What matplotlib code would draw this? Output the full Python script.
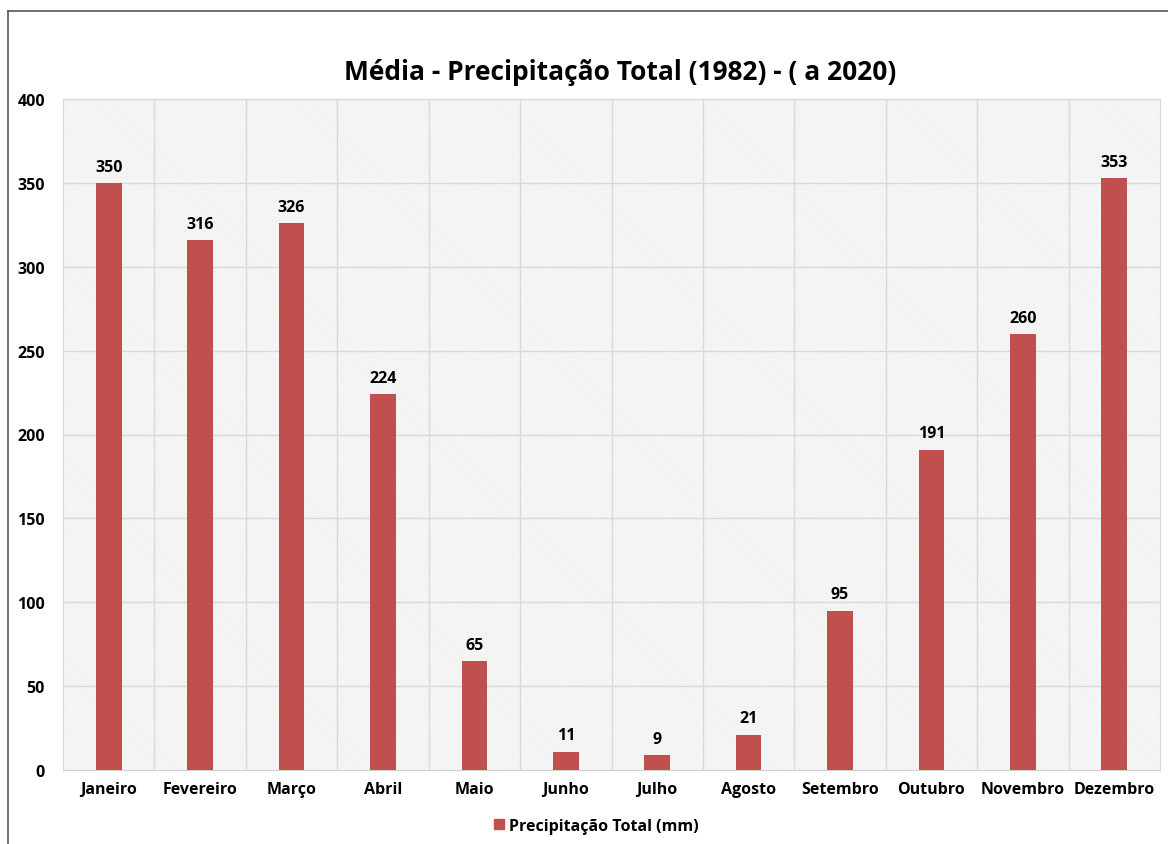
import matplotlib
matplotlib.use("Agg")
import matplotlib.pyplot as plt
from matplotlib.patches import Rectangle
from matplotlib.lines import Line2D
import numpy as np

months = ["Janeiro", "Fevereiro", "Março", "Abril", "Maio", "Junho",
          "Julho", "Agosto", "Setembro", "Outubro", "Novembro", "Dezembro"]
precip = [350, 316, 326, 224, 65, 11, 9, 21, 95, 191, 260, 353]
yticks = [0, 50, 100, 150, 200, 250, 300, 350, 400]
title = "Média - Precipitação Total (1982) - ( a 2020)"
legend_label = "Precipitação Total (mm)"

plt.rcParams['font.family'] = ['Open Sans', 'DejaVu Sans']
plt.rcParams['hatch.linewidth'] = 0.5
plt.rcParams['hatch.color'] = '#e2e2e2'

fig = plt.figure(figsize=(11.68, 8.45), dpi=100)
ax = fig.add_axes([63/1168, 1-771/845, (1160-63)/1168, (771-100)/845])

x = np.arange(len(months))
bar_color = '#C0504D'
ax.bar(x, precip, width=0.28, color=bar_color, zorder=3, label=legend_label)

# hatched background
ax.add_patch(Rectangle((0, 0), 1, 1, transform=ax.transAxes, fill=False,
                       hatch='\\' * 12, edgecolor='#e2e2e2', lw=0, zorder=0))

ax.set_xlim(-0.5, len(months) - 0.5)
ax.set_ylim(0, 400)
ax.set_yticks(yticks)
ax.set_yticklabels([str(v) for v in yticks], fontsize=11.5, fontweight='bold')
ax.set_xticks(x)
ax.set_xticklabels(months, fontsize=11.5, fontweight='bold')
ax.tick_params(axis='both', length=0)
ax.tick_params(axis='y', pad=13)
ax.tick_params(axis='x', pad=8)

for yv in yticks[1:]:
    ax.axhline(yv, color='#d9d9d9', lw=1, zorder=1)
for b in np.arange(0.5, len(months) - 0.5, 1.0):
    ax.axvline(b, color='#d9d9d9', lw=1, zorder=1)

for s in ['top', 'right', 'left']:
    ax.spines[s].set_color('#d9d9d9')
ax.spines['bottom'].set_color('#d0d0d0')

for xi, v in zip(x, precip):
    ax.annotate(str(v), (xi, v), xytext=(0, 6), textcoords='offset points',
                ha='center', va='bottom', fontsize=11.5, fontweight='bold', zorder=4)

fig.text(620/1168, 1-72/845, title, ha='center', va='center',
         fontsize=19, fontweight='bold')

handle = Line2D([], [], marker='s', linestyle='none', markersize=7,
                markerfacecolor=bar_color, markeredgecolor=bar_color)
fig.legend([handle], [legend_label], loc='center', bbox_to_anchor=(594/1168, 1-827/845),
           frameon=False, prop={'size': 11.5, 'weight': 'bold'}, handletextpad=0.0,
           handlelength=1.2)

# outer frame lines
fig.add_artist(Line2D([8/1168, 1], [1-12/845, 1-12/845], transform=fig.transFigure,
                      color='#555555', lw=1.2))
fig.add_artist(Line2D([8/1168, 8/1168], [0, 1-12/845], transform=fig.transFigure,
                      color='#555555', lw=1.2))

fig.savefig("out.png", dpi=100)
